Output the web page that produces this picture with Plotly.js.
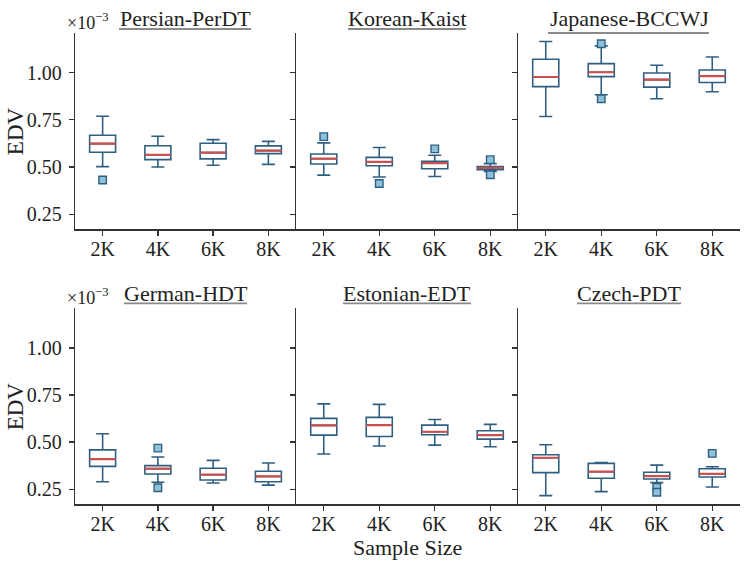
<!DOCTYPE html>
<html><head><meta charset="utf-8">
<script src="https://cdn.plot.ly/plotly-3.0.1.min.js"></script>
<style>html,body{margin:0;padding:0;background:#fff}#chart{width:747px;height:561px}</style>
</head><body><div id="chart"></div>
<script>
// ---- data (EDV, in units of 1e-3) ----
const sizes = ['2K', '4K', '6K', '8K'];
const panelTitles = ['Persian-PerDT', 'Korean-Kaist', 'Japanese-BCCWJ', 'German-HDT', 'Estonian-EDT', 'Czech-PDT'];
const yTickVals = [0.25, 0.50, 0.75, 1.00];
const yTickText = ['0.25', '0.50', '0.75', '1.00'];

const persianLow = [0.502, 0.500, 0.509, 0.514];
const persianQ1 = [0.578, 0.539, 0.543, 0.571];
const persianMed = [0.624, 0.564, 0.576, 0.587];
const persianQ3 = [0.668, 0.613, 0.626, 0.612];
const persianHigh = [0.769, 0.663, 0.645, 0.636];
const persianOutX = ['2K'];
const persianOutY = [0.431];

const koreanLow = [0.457, 0.447, 0.450, 0.477];
const koreanQ1 = [0.516, 0.507, 0.491, 0.486];
const koreanMed = [0.544, 0.527, 0.521, 0.496];
const koreanQ3 = [0.569, 0.551, 0.530, 0.503];
const koreanHigh = [0.628, 0.603, 0.562, 0.518];
const koreanOutX = ['2K', '4K', '6K', '8K', '8K'];
const koreanOutY = [0.661, 0.413, 0.596, 0.539, 0.459];

const japaneseLow = [0.768, 0.883, 0.862, 0.899];
const japaneseQ1 = [0.926, 0.979, 0.923, 0.948];
const japaneseMed = [0.977, 1.002, 0.963, 0.982];
const japaneseQ3 = [1.071, 1.048, 0.998, 1.014];
const japaneseHigh = [1.165, 1.142, 1.039, 1.083];
const japaneseOutX = ['4K', '4K'];
const japaneseOutY = [1.153, 0.862];

const germanLow = [0.290, 0.287, 0.283, 0.272];
const germanQ1 = [0.371, 0.331, 0.299, 0.290];
const germanMed = [0.410, 0.359, 0.327, 0.318];
const germanQ3 = [0.459, 0.375, 0.361, 0.345];
const germanHigh = [0.544, 0.421, 0.403, 0.389];
const germanOutX = ['4K', '4K'];
const germanOutY = [0.468, 0.258];

const estonianLow = [0.437, 0.479, 0.484, 0.475];
const estonianQ1 = [0.537, 0.530, 0.539, 0.516];
const estonianMed = [0.589, 0.590, 0.555, 0.537];
const estonianQ3 = [0.626, 0.631, 0.590, 0.560];
const estonianHigh = [0.703, 0.700, 0.620, 0.594];
const estonianOutX = [];
const estonianOutY = [];

const czechLow = [0.216, 0.237, 0.285, 0.262];
const czechQ1 = [0.338, 0.308, 0.304, 0.315];
const czechMed = [0.417, 0.343, 0.320, 0.331];
const czechQ3 = [0.433, 0.387, 0.340, 0.359];
const czechHigh = [0.486, 0.391, 0.378, 0.369];
const czechOutX = ['6K', '6K', '8K'];
const czechOutY = [0.260, 0.234, 0.440];

// ---- assembly ----
const panels = [
  [persianLow, persianQ1, persianMed, persianQ3, persianHigh, persianOutX, persianOutY],
  [koreanLow, koreanQ1, koreanMed, koreanQ3, koreanHigh, koreanOutX, koreanOutY],
  [japaneseLow, japaneseQ1, japaneseMed, japaneseQ3, japaneseHigh, japaneseOutX, japaneseOutY],
  [germanLow, germanQ1, germanMed, germanQ3, germanHigh, germanOutX, germanOutY],
  [estonianLow, estonianQ1, estonianMed, estonianQ3, estonianHigh, estonianOutX, estonianOutY],
  [czechLow, czechQ1, czechMed, czechQ3, czechHigh, czechOutX, czechOutY]
];

const W = 747, H = 561;
const FONT = '"Liberation Serif", "Times New Roman", serif';
const BOXC = '#2f5f80', MEDC = '#c8504f', OUTF = '#8fc1da', AXC = '#333333';
const colEdges = [[75, 296], [296, 518], [518, 740]];
const rowEdges = [[33, 229.3], [308.3, 504.3]];
const underline = [[119, 251, 29], [348, 466, 29], [548, 709, 33], [124, 247, 303.3], [343, 471, 303.3], [577, 681, 303.3]];

const traces = [];
const layout = {
  width: W, height: H,
  margin: {l: 0, r: 0, t: 0, b: 0},
  paper_bgcolor: '#fff', plot_bgcolor: 'rgba(0,0,0,0)',
  showlegend: false,
  boxmode: 'overlay',
  font: {family: FONT, color: '#222'},
  annotations: [], shapes: []
};

panels.forEach((p, i) => {
  const n = i + 1;
  const col = i % 3, row = Math.floor(i / 3);
  const xa = 'x' + (n === 1 ? '' : n), ya = 'y' + (n === 1 ? '' : n);
  const [low, q1, med, q3, high, ox, oy] = p;
  traces.push({
    type: 'box', x: sizes, q1: q1, median: med, q3: q3, lowerfence: low, upperfence: high,
    xaxis: xa, yaxis: ya, width: 0.47, whiskerwidth: 0.5,
    fillcolor: 'rgba(255,255,255,0)', line: {color: BOXC, width: 1.6},
    boxpoints: false, hoverinfo: 'skip'
  });
  traces.push({
    type: 'box', x: sizes, q1: med, median: med, q3: med, lowerfence: med, upperfence: med,
    xaxis: xa, yaxis: ya, width: 0.47, whiskerwidth: 0,
    fillcolor: 'rgba(255,255,255,0)', line: {color: MEDC, width: 2.2},
    boxpoints: false, hoverinfo: 'skip'
  });
  if (ox.length) {
    traces.push({
      type: 'scatter', mode: 'markers', x: ox, y: oy, xaxis: xa, yaxis: ya,
      marker: {symbol: 'square', size: 7.5, color: OUTF, line: {color: BOXC, width: 1.4}},
      hoverinfo: 'skip'
    });
  }
  const xd = [colEdges[col][0] / W, colEdges[col][1] / W];
  const yd = [1 - rowEdges[row][1] / H, 1 - rowEdges[row][0] / H];
  layout['xaxis' + (n === 1 ? '' : n)] = {
    domain: xd, anchor: ya, type: 'category', categoryorder: 'array', categoryarray: sizes,
    range: [-0.5, 3.5], showgrid: false, zeroline: false,
    showline: true, linecolor: AXC, linewidth: 1.3,
    ticks: 'outside', ticklen: 5, tickwidth: 1.3, tickcolor: AXC, ticklabelstandoff: -4,
    tickfont: {family: FONT, size: 20, color: '#222'}
  };
  layout['yaxis' + (n === 1 ? '' : n)] = {
    domain: yd, anchor: xa, range: [0.17, 1.21], showgrid: false, zeroline: false,
    showline: true, linecolor: AXC, linewidth: 1.3,
    ticks: 'outside', ticklen: 5, tickwidth: 1.3, tickcolor: AXC, ticklabelstandoff: 3,
    tickvals: yTickVals, ticktext: yTickText, showticklabels: col === 0,
    tickfont: {family: FONT, size: 20, color: '#222'}
  };
  // panel title
  const cx = (colEdges[col][0] + colEdges[col][1]) / 2;
  layout.annotations.push({
    text: panelTitles[i], xref: 'paper', yref: 'paper',
    x: cx / W, y: 1 - (row === 0 ? 18 : 293.5) / H, xanchor: 'center', yanchor: 'middle',
    showarrow: false, font: {family: FONT, size: 22, color: '#222'}
  });
  const u = underline[i];
  layout.shapes.push({
    type: 'line', xref: 'paper', yref: 'paper',
    x0: u[0] / W, x1: u[1] / W, y0: 1 - u[2] / H, y1: 1 - u[2] / H,
    line: {color: '#8a8a8a', width: 1.8}
  });
  if (col === 0) {
    layout.annotations.push({
      text: '×10<sup>−3</sup>', xref: 'paper', yref: 'paper',
      x: 65 / W, y: 1 - (row === 0 ? 21 : 296) / H, xanchor: 'left', yanchor: 'middle',
      showarrow: false, font: {family: FONT, size: 18, color: '#222'}
    });
    layout.annotations.push({
      text: 'EDV', xref: 'paper', yref: 'paper', textangle: -90,
      x: 15 / W, y: 1 - ((rowEdges[row][0] + rowEdges[row][1]) / 2) / H, xanchor: 'center', yanchor: 'middle',
      showarrow: false, font: {family: FONT, size: 23, color: '#222'}
    });
  }
});

layout.annotations.push({
  text: 'Sample Size', xref: 'paper', yref: 'paper',
  x: 407 / W, y: 1 - 547 / H, xanchor: 'center', yanchor: 'middle',
  showarrow: false, font: {family: FONT, size: 22, color: '#222'}
});

Plotly.newPlot('chart', traces, layout, {displayModeBar: false, staticPlot: true});
</script>
</body></html>
